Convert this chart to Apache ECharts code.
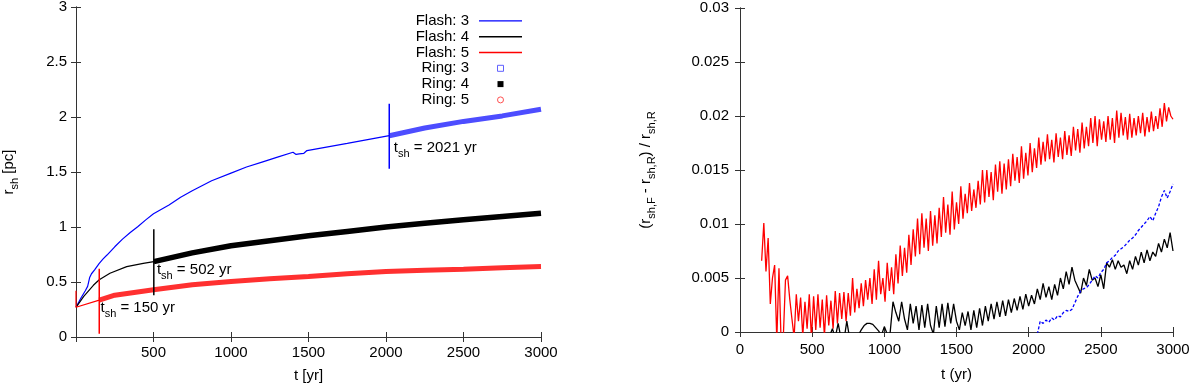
<!DOCTYPE html>
<html>
<head>
<meta charset="utf-8">
<title>shock radius</title>
<script src="https://cdn.jsdelivr.net/npm/echarts@6/dist/echarts.min.js"></script>
<style>
html, body { margin: 0; padding: 0; background: #fff; }
#main { width: 1200px; height: 390px; }
</style>
</head>
<body>
<div id="main"></div>
<script>
// left panel: r_sh [pc] vs t [yr]
var flash3T = [0, 30, 60, 75, 88, 100, 120, 150, 175, 200, 250, 300, 350, 400, 450, 500, 600, 675, 750, 875, 1000, 1100, 1200, 1300, 1400, 1420, 1440, 1470, 1490, 1500, 1750, 2021];
var flash3R = [0.27, 0.35, 0.42, 0.46, 0.54, 0.575, 0.61, 0.67, 0.71, 0.745, 0.82, 0.89, 0.95, 1.005, 1.065, 1.12, 1.2, 1.27, 1.33, 1.42, 1.49, 1.545, 1.59, 1.635, 1.68, 1.66, 1.665, 1.67, 1.695, 1.70, 1.76, 1.83];
var flash4T = [0, 50, 112, 150, 219, 327, 434, 502];
var flash4R = [0.27, 0.37, 0.47, 0.52, 0.58, 0.64, 0.67, 0.685];
var flash5T = [0, 0, 150];
var flash5R = [0.42, 0.27, 0.335];

var ring3T = [2021, 2250, 2500, 2750, 3000];
var ring3R = [1.83, 1.90, 1.96, 2.01, 2.07];
var ring4T = [502, 750, 1000, 1250, 1500, 1750, 2000, 2250, 2500, 2750, 3000];
var ring4R = [0.685, 0.765, 0.83, 0.875, 0.92, 0.96, 1.0, 1.035, 1.065, 1.095, 1.125];
var ring5T = [150, 250, 500, 750, 1000, 1250, 1500, 1750, 2000, 2250, 2500, 2750, 3000];
var ring5R = [0.335, 0.38, 0.43, 0.475, 0.505, 0.53, 0.55, 0.575, 0.595, 0.607, 0.617, 0.63, 0.64];

// t_sh markers
var shockT = [2021, 502, 150];
var shockLow = [1.53, 0.38, 0.03];
var shockHigh = [2.12, 0.98, 0.62];
var shockColor = ['#0000ff', '#000000', '#ff0000'];
var shockLabelT = [2050, 522, 158];
var shockLabelR = [1.70, 0.59, 0.245];

// right panel: (r_F - r_R) / r_R, evenly sampled
var diff5Start = 150, diff5Step = 15;
var diff5 = [
  0.0066, 0.0101, 0.0056, 0.0087, 0.0026, 0.0050, 0.0062, -0.0008, 0.0059, -0.0010,
  -0.0005, 0.0048, 0.0052, 0.0030, 0.0012, -0.0005, 0.0035, 0.0010, 0.0032, -0.0004,
  0.0028, 0.0003, 0.0035, -0.0006, 0.0033, 0.0002, 0.0035, 0.0004, 0.0030, -0.0004,
  0.0034, 0.0006, 0.0029, 0.0003, 0.0038, 0.0008, 0.0036, 0.0012, 0.0037, 0.0010,
  0.0036, 0.0015, 0.0050, 0.0018, 0.0040, 0.0022, 0.0045, 0.0024, 0.0048, 0.0030,
  0.0050, 0.0026, 0.0058, 0.0030, 0.0066, 0.0035, 0.0050, 0.0028, 0.0064, 0.0038,
  0.0060, 0.0035, 0.0072, 0.0045, 0.0080, 0.0052, 0.0078, 0.0055, 0.0090, 0.0062,
  0.0095, 0.0070, 0.0105, 0.0072, 0.0110, 0.0078, 0.0105, 0.0075, 0.0112, 0.0080,
  0.0108, 0.0082, 0.0115, 0.0088, 0.0125, 0.0092, 0.0118, 0.0090, 0.0130, 0.0095,
  0.0120, 0.0100, 0.0135, 0.0105, 0.0128, 0.0110, 0.0138, 0.0112, 0.0132, 0.0115,
  0.0140, 0.0118, 0.0150, 0.0120, 0.0150, 0.0125, 0.0148, 0.0122, 0.0155, 0.0130,
  0.0158, 0.0128, 0.0156, 0.0132, 0.0160, 0.0135, 0.0165, 0.0140, 0.0162, 0.0138,
  0.0172, 0.0142, 0.0166, 0.0145, 0.0175, 0.0148, 0.0170, 0.0152, 0.0180, 0.0155,
  0.0176, 0.0158, 0.0183, 0.0160, 0.0178, 0.0157, 0.0184, 0.0162, 0.0180, 0.0160,
  0.0186, 0.0164, 0.0182, 0.0163, 0.0190, 0.0168, 0.0188, 0.0166, 0.0194, 0.0170,
  0.0190, 0.0172, 0.0198, 0.0175, 0.0200, 0.0172, 0.0197, 0.0178, 0.0195, 0.0176,
  0.0200, 0.0178, 0.0198, 0.0175, 0.0205, 0.0180, 0.0203, 0.0182, 0.0199, 0.0178,
  0.0202, 0.0180, 0.0198, 0.0182, 0.0200, 0.0184, 0.0203, 0.0181, 0.0199, 0.0185,
  0.0204, 0.0186, 0.0200, 0.0188, 0.0207, 0.0190, 0.0212, 0.0195, 0.0208, 0.0200,
  0.0197
];
var diff4Start = 600, diff4Step = 20;
var diff4 = [
  -0.0006, -0.0004, 0.0003, -0.0005, 0.0008, -0.0006, -0.0008, 0.0010, -0.0006, -0.0010,
  -0.0008, -0.0003, 0.0002, 0.0006, 0.0008, 0.0008, 0.0007, 0.0004, 0.0001, -0.0003,
  0.0005, -0.0002, -0.0001, 0.0028, 0.0018, 0.0010, 0.0028, 0.0012, 0.0002, 0.0026,
  0.0008, 0.0024, 0.0002, 0.0025, 0.0004, 0.0026, 0.0006, -0.0002, 0.0024, 0.0004,
  0.0026, 0.0005, 0.0027, 0.0008, 0.0026, 0.0010, 0.0002, 0.0018, 0.0006, 0.0019,
  0.0002, 0.0020, 0.0004, 0.0022, 0.0006, 0.0024, 0.0010, 0.0026, 0.0012, 0.0028,
  0.0014, 0.0029, 0.0015, 0.0030, 0.0018, 0.0031, 0.0020, 0.0033, 0.0021, 0.0035,
  0.0024, 0.0034, 0.0026, 0.0040, 0.0030, 0.0045, 0.0032, 0.0042, 0.0030, 0.0044,
  0.0034, 0.0050, 0.0040, 0.0056, 0.0044, 0.0060, 0.0048, 0.0042, 0.0036, 0.0050,
  0.0043, 0.0058, 0.0048, 0.0050, 0.0042, 0.0053, 0.0040, 0.0064, 0.0060, 0.0067,
  0.0058, 0.0066, 0.0060, 0.0062, 0.0054, 0.0066, 0.0058, 0.0070, 0.0062, 0.0074,
  0.0064, 0.0076, 0.0066, 0.0074, 0.0070, 0.0082, 0.0074, 0.0086, 0.0078, 0.0092,
  0.0075
];
var diff3Start = 2060, diff3Step = 20;
var diff3 = [
  -0.0002, 0.0010, 0.0008, 0.0011, 0.0009, 0.0013, 0.0011, 0.0015, 0.0014, 0.0018,
  0.0020, 0.0019, 0.0021, 0.0027, 0.0033, 0.0038, 0.0040, 0.0041, 0.0044, 0.0048,
  0.0052, 0.0050, 0.0055, 0.0058, 0.0064, 0.0066, 0.0069, 0.0071, 0.0075, 0.0077,
  0.0079, 0.0082, 0.0085, 0.0087, 0.0090, 0.0094, 0.0097, 0.0100, 0.0103, 0.0107,
  0.0103, 0.0110, 0.0116, 0.0125, 0.0131, 0.0124, 0.0130, 0.0137
];

var FONT = "'Liberation Sans', Arial, Helvetica, sans-serif";

function pairs(ts, vs) {
  return ts.map(function (t, i) { return [t, vs[i]]; });
}
function sampled(start, step, vs) {
  return vs.map(function (v, i) { return [start + i * step, v]; });
}

// subscript text for names and labels
var subRich = {
  a: { fontSize: 15, fontFamily: FONT, color: '#000', verticalAlign: 'bottom', padding: [0, 0, 4, 0] },
  b: { fontSize: 11, fontFamily: FONT, color: '#000', verticalAlign: 'bottom' }
};

function axis(gridIndex, position, opts) {
  var a = {
    type: 'value',
    gridIndex: gridIndex,
    position: position,
    min: opts.min, max: opts.max, interval: opts.interval,
    splitLine: { show: false },
    axisLine: { show: true, lineStyle: { color: '#333', width: 1 } },
    axisTick: { show: true, inside: true, length: 5, lineStyle: { color: '#333', width: 1 } },
    axisLabel: {
      show: opts.labeled, color: '#000', fontSize: 15, fontFamily: FONT,
      margin: opts.margin || 9, showMinLabel: opts.showMin !== false,
      formatter: function (v) { return String(v); }
    }
  };
  if (opts.name) {
    a.name = opts.name;
    a.nameLocation = 'middle';
    a.nameGap = opts.nameGap;
    a.nameRotate = opts.nameRotate || 0;
    a.nameTextStyle = { fontSize: 15, fontFamily: FONT, color: '#000', rich: subRich };
  }
  return a;
}

var myChart = echarts.init(document.getElementById('main'), null, { renderer: 'canvas' });

var series = [
  { name: 'Flash: 3', data: pairs(flash3T, flash3R), color: '#0000ff' },
  { name: 'Flash: 4', data: pairs(flash4T, flash4R), color: '#000000' },
  { name: 'Flash: 5', data: pairs(flash5T, flash5R), color: '#ff0000' },
  { name: 'Ring: 3', data: pairs(ring3T, ring3R), color: '#4d4dff', width: 5 },
  { name: 'Ring: 4', data: pairs(ring4T, ring4R), color: '#000000', width: 5.5 },
  { name: 'Ring: 5', data: pairs(ring5T, ring5R), color: '#ff3030', width: 5 }
].map(function (s) {
  return {
    name: s.name, type: 'line', xAxisIndex: 0, yAxisIndex: 0,
    data: s.data, symbol: 'none', color: s.color, silent: true,
    lineStyle: { color: s.color, width: s.width || 1.2 }
  };
});

// vertical t_sh markers
shockT.forEach(function (t, i) {
  series.push({
    name: 'tsh' + i, type: 'line', xAxisIndex: 0, yAxisIndex: 0, symbol: 'none', silent: true,
    data: [[t, shockLow[i]], [t, shockHigh[i]]],
    lineStyle: { color: shockColor[i], width: 1.5 }
  });
});

// t_sh labels
series.push({
  name: 'tshLabels', type: 'scatter', xAxisIndex: 0, yAxisIndex: 0, symbolSize: 0, silent: true,
  itemStyle: { opacity: 1 },
  data: shockT.map(function (t, i) { return [shockLabelT[i], shockLabelR[i], t]; }),
  label: {
    show: true, position: 'right', distance: 0, color: '#000', opacity: 1,
    formatter: function (p) { return '{a|t}{b|sh}{a| = ' + p.value[2] + ' yr}'; },
    rich: subRich
  }
});

// right panel
series.push({
  name: 'd5', type: 'line', xAxisIndex: 2, yAxisIndex: 2, symbol: 'none', silent: true,
  data: sampled(diff5Start, diff5Step, diff5), lineStyle: { color: '#ff0000', width: 1.3 }
});
series.push({
  name: 'd4', type: 'line', xAxisIndex: 2, yAxisIndex: 2, symbol: 'none', silent: true,
  data: sampled(diff4Start, diff4Step, diff4), lineStyle: { color: '#000000', width: 1.3 }
});
series.push({
  name: 'd3', type: 'line', xAxisIndex: 2, yAxisIndex: 2, symbol: 'none', silent: true,
  data: sampled(diff3Start, diff3Step, diff3), lineStyle: { color: '#0000ff', width: 1.3, type: [3, 2] }
});

var thinLine = 'path://M0,0H43V1.4H0Z';
var square = 'path://M0,0H10V10H0Z';

var option = {
  animation: false,
  backgroundColor: '#fff',
  grid: [
    { left: 76, top: 7, width: 465, height: 330, outerBoundsMode: 'none' },
    { left: 740, top: 8, width: 433, height: 324, outerBoundsMode: 'none' }
  ],
  legend: {
    orient: 'vertical', align: 'right', right: 678, top: 13, padding: 0, itemGap: 0,
    itemWidth: 43, itemHeight: 6, selectedMode: false,
    textStyle: { fontSize: 15, fontFamily: FONT, color: '#000', lineHeight: 15.8, padding: [0, 5, 0, 0] },
    data: [
      { name: 'Flash: 3', icon: thinLine },
      { name: 'Flash: 4', icon: thinLine },
      { name: 'Flash: 5', icon: thinLine },
      { name: 'Ring: 3', icon: square, itemStyle: { color: '#fff', borderColor: '#6060ff', borderWidth: 1 } },
      { name: 'Ring: 4', icon: square, itemStyle: { color: '#000' } },
      { name: 'Ring: 5', icon: 'circle', itemStyle: { color: '#fff', borderColor: '#ff5050', borderWidth: 1 } }
    ]
  },
  xAxis: [
    axis(0, 'bottom', { min: 0, max: 3000, interval: 500, labeled: true, showMin: false, margin: 8,
      name: 't [yr]', nameGap: 31 }),
    axis(0, 'top', { min: 0, max: 3000, interval: 500, labeled: false }),
    axis(1, 'bottom', { min: 0, max: 3000, interval: 500, labeled: true, margin: 10,
      name: 't (yr)', nameGap: 35 }),
    axis(1, 'top', { min: 0, max: 3000, interval: 500, labeled: false })
  ],
  yAxis: [
    axis(0, 'left', { min: 0, max: 3, interval: 0.5, labeled: true, margin: 9,
      name: '{a|r}{b|sh}{a| [pc]}', nameGap: 56, nameRotate: 90 }),
    axis(0, 'right', { min: 0, max: 3, interval: 0.5, labeled: false }),
    axis(1, 'left', { min: 0, max: 0.03, interval: 0.005, labeled: true, margin: 11,
      name: '{a|(r}{b|sh,F}{a| - r}{b|sh,R}{a|) / r}{b|sh,R}', nameGap: 83, nameRotate: 90 }),
    axis(1, 'right', { min: 0, max: 0.03, interval: 0.005, labeled: false })
  ],
  series: series
};

myChart.setOption(option);
</script>
</body>
</html>
